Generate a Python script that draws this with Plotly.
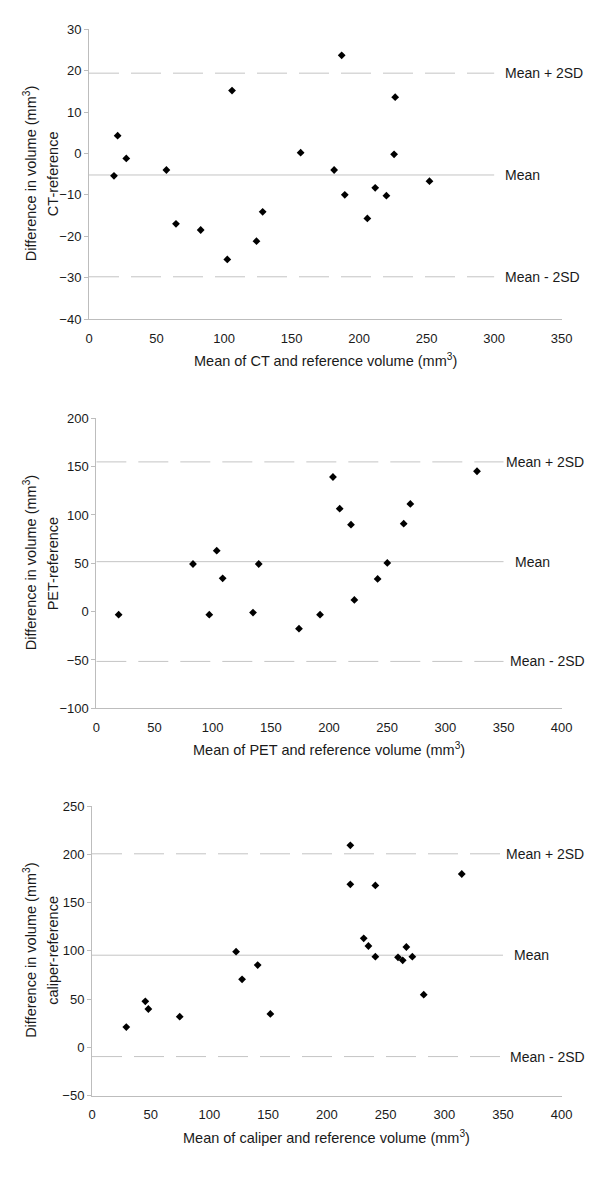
import plotly.graph_objects as go

# The page body adds an 8px margin, so the figure is sized to fit the window
# and all reference pixel positions are measured from that offset.
OFF = 8
W, H = 600 - OFF, 1184 - OFF

# ---- Data ----
ct_x = [18.5, 21.2, 27.6, 57.3, 64.4, 82.7, 102.4, 105.9, 124.0, 128.6, 156.7,
        181.5, 187.1, 189.4, 206.1, 211.9, 220.2, 225.9, 226.7, 252.1]
ct_y = [-5.4, 4.3, -1.2, -4.0, -17.0, -18.5, -25.6, 15.2, -21.2, -14.1, 0.2,
        -4.0, 23.7, -10.0, -15.7, -8.3, -10.2, -0.2, 13.6, -6.7]
ct_mean, ct_sd2 = -5.2, 24.6

pet_x = [19.2, 83.1, 97.1, 103.5, 108.6, 134.7, 139.6, 174.2, 192.3, 203.4,
         209.2, 218.9, 221.8, 241.8, 250.1, 264.2, 269.9, 327.2]
pet_y = [-3.1, 49.3, -3.1, 63.1, 34.5, -1.0, 49.3, -17.6, -3.1, 139.3,
         106.5, 90.0, 12.1, 33.8, 50.4, 91.0, 111.4, 145.2]
pet_mean, pet_sd2 = 51.7, 103.2

cal_x = [29.2, 45.4, 48.0, 74.7, 122.7, 127.8, 141.1, 151.9, 220.0, 220.0,
         231.4, 235.4, 241.3, 241.3, 260.6, 264.6, 267.7, 272.8, 282.5, 314.9]
cal_y = [21.1, 47.7, 39.8, 31.8, 99.1, 70.5, 85.3, 34.7, 209.3, 168.9,
         113.0, 105.0, 94.0, 167.8, 93.3, 90.2, 104.0, 94.0, 54.6, 179.6]
cal_mean, cal_sd2 = 95.5, 105.0

panels = [
    dict(x=ct_x, y=ct_y, mean=ct_mean, sd2=ct_sd2, xr=[0, 350], yr=[-40, 30], dt=10,
         lines_to=300, name="CT-reference",
         xtitle="Mean of CT and reference volume (mm<sup>3</sup>)",
         px=(89, 561.7), py=(29.3, 319), lab_x=(503, 503, 503)),
    dict(x=pet_x, y=pet_y, mean=pet_mean, sd2=pet_sd2, xr=[0, 400], yr=[-100, 200], dt=50,
         lines_to=350, name="PET-reference",
         xtitle="Mean of PET and reference volume (mm<sup>3</sup>)",
         px=(96.3, 561.7), py=(418.3, 708.3), lab_x=(504, 512.7, 508)),
    dict(x=cal_x, y=cal_y, mean=cal_mean, sd2=cal_sd2, xr=[0, 400], yr=[-50, 250], dt=50,
         lines_to=350, name="caliper-reference",
         xtitle="Mean of caliper and reference volume (mm<sup>3</sup>)",
         px=(92, 561.7), py=(806, 1095.7), lab_x=(504, 511.7, 508)),
]

FONT = "Liberation Sans, Arial, sans-serif"
TXT = "#1a1a1a"
AXC = "#bdbdbd"
LINEC = "#c4c4c4"


def fx(px):
    return (px - OFF) / W


def fy(py):
    return 1 - (py - OFF) / H


fig = go.Figure()
annotations = []
layout = {}

for i, p in enumerate(panels, start=1):
    sfx = "" if i == 1 else str(i)
    xa, ya = "x" + sfx, "y" + sfx
    x0, x1 = p["px"]
    y0, y1 = p["py"]
    layout["xaxis" + sfx] = dict(
        domain=[fx(x0), fx(x1)], range=p["xr"], anchor=ya, automargin=False,
        showgrid=False, zeroline=False, showline=True, linecolor=AXC, linewidth=1,
        ticks="outside", ticklen=7, tickcolor="rgba(0,0,0,0)", dtick=50,
        tickfont=dict(family=FONT, size=13, color=TXT), fixedrange=True,
    )
    layout["yaxis" + sfx] = dict(
        domain=[fy(y1), fy(y0)], range=p["yr"], anchor=xa, automargin=False,
        showgrid=False, zeroline=False, showline=True, linecolor=AXC, linewidth=1,
        ticks="outside", ticklen=4, tickcolor=AXC, dtick=p["dt"],
        tickfont=dict(family=FONT, size=13, color=TXT), fixedrange=True,
    )
    m, s = p["mean"], p["sd2"]
    xl = [0, p["lines_to"]]
    # limit lines
    fig.add_trace(go.Scatter(x=xl, y=[m + s] * 2, mode="lines", xaxis=xa, yaxis=ya,
                             line=dict(color=LINEC, width=1, dash="30px,12px"),
                             showlegend=False, hoverinfo="skip"))
    fig.add_trace(go.Scatter(x=xl, y=[m] * 2, mode="lines", xaxis=xa, yaxis=ya,
                             line=dict(color=LINEC, width=1),
                             showlegend=False, hoverinfo="skip"))
    fig.add_trace(go.Scatter(x=xl, y=[m - s] * 2, mode="lines", xaxis=xa, yaxis=ya,
                             line=dict(color=LINEC, width=1, dash="30px,12px"),
                             showlegend=False, hoverinfo="skip"))
    # points
    fig.add_trace(go.Scatter(x=p["x"], y=p["y"], mode="markers", xaxis=xa, yaxis=ya,
                             marker=dict(symbol="diamond", size=6, color="black",
                                         line=dict(width=0)),
                             showlegend=False))
    # right labels
    for lx, val, txt in zip(p["lab_x"], [m + s, m, m - s], ["Mean + 2SD", "Mean", "Mean - 2SD"]):
        annotations.append(dict(xref="paper", yref=ya, x=fx(lx), y=val, text=txt,
                                showarrow=False, xanchor="left", yanchor="middle",
                                font=dict(family=FONT, size=14, color=TXT)))
    # y titles
    yc = fy((y0 + y1) / 2)
    annotations.append(dict(xref="paper", yref="paper", x=fx(30), y=yc,
                            text="Difference in volume (mm<sup>3</sup>)", textangle=-90,
                            showarrow=False, xanchor="center", yanchor="middle",
                            font=dict(family=FONT, size=14.5, color=TXT)))
    annotations.append(dict(xref="paper", yref="paper", x=fx(53), y=yc,
                            text=p["name"], textangle=-90,
                            showarrow=False, xanchor="center", yanchor="middle",
                            font=dict(family=FONT, size=14.5, color=TXT)))
    # x titles
    annotations.append(dict(xref="paper", yref="paper", x=fx((x0 + x1) / 2),
                            y=fy(y1 + 41), text=p["xtitle"],
                            showarrow=False, xanchor="center", yanchor="middle",
                            font=dict(family=FONT, size=14.5, color=TXT)))

fig.update_layout(
    width=W, height=H, margin=dict(l=0, r=0, t=0, b=0, autoexpand=False),
    paper_bgcolor="white", plot_bgcolor="white",
    annotations=annotations, showlegend=False,
    **layout,
)

fig.write_html("out.html")
